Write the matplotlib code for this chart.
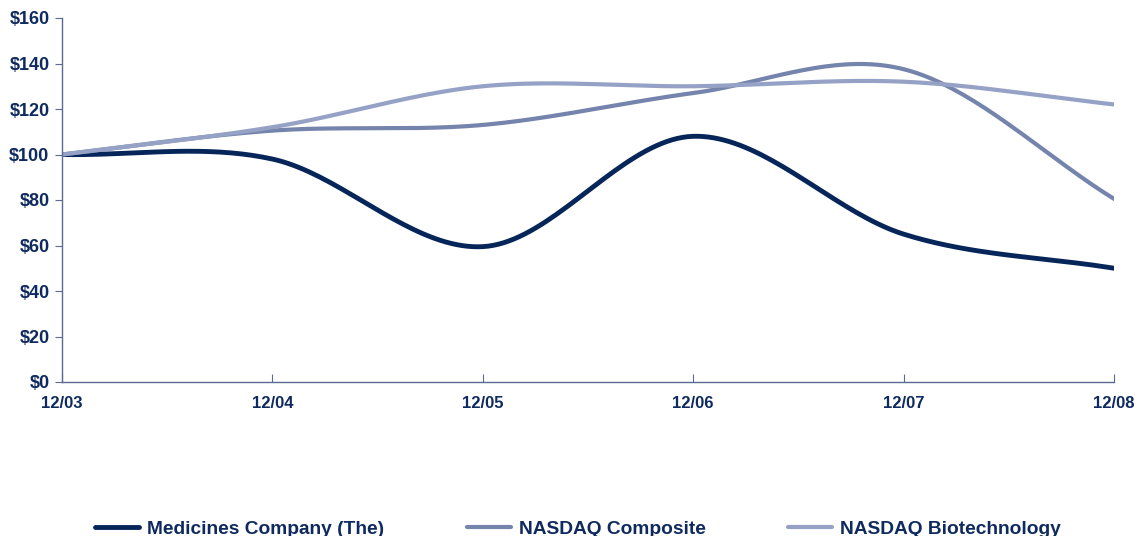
import numpy as np
import matplotlib
matplotlib.use('Agg')
import matplotlib.pyplot as plt

# Cumulative total return data
periods = ["12/03", "12/04", "12/05", "12/06", "12/07", "12/08"]
medicines = [100, 98, 59.5, 108, 65, 50]
nasdaq_composite = [100, 110.5, 113, 127, 137.5, 80.5]
nasdaq_biotech = [100, 112, 130, 130, 132, 122]

series_names = ["Medicines Company (The)", "NASDAQ Composite", "NASDAQ Biotechnology"]
colors = ["#06265a", "#7584ad", "#95a2c5"]
widths = [3.5, 3, 3]
text_color = "#0f2a5e"

plt.rcParams['font.family'] = ['Liberation Sans', 'DejaVu Sans']


def smooth(y, n=40):
    """Catmull-Rom spline through the points (similar to Excel smoothed lines)."""
    y = np.asarray(y, dtype=float)
    x = np.arange(len(y), dtype=float)
    p = np.concatenate([[2 * y[0] - y[1]], y, [2 * y[-1] - y[-2]]])
    xs, ys = [], []
    for i in range(len(y) - 1):
        p0, p1, p2, p3 = p[i], p[i + 1], p[i + 2], p[i + 3]
        t = np.linspace(0, 1, n, endpoint=(i == len(y) - 2))
        seg = 0.5 * ((2 * p1) + (-p0 + p2) * t
                     + (2 * p0 - 5 * p1 + 4 * p2 - p3) * t ** 2
                     + (-p0 + 3 * p1 - 3 * p2 + p3) * t ** 3)
        xs.append(x[i] + t)
        ys.append(seg)
    return np.concatenate(xs), np.concatenate(ys)


fig = plt.figure(figsize=(11.38, 5.36), dpi=100)
ax = fig.add_axes([62 / 1138, 154 / 536, (1114 - 62) / 1138, (382 - 18) / 536])

for vals, name, c, w in zip([medicines, nasdaq_composite, nasdaq_biotech], series_names, colors, widths):
    xs, ys = smooth(vals)
    ax.plot(xs, ys, color=c, lw=w, label=name, solid_capstyle='round')

ax.set_xlim(0, len(periods) - 1)
ax.set_ylim(0, 160)
ax.set_xticks(range(len(periods)))
ax.set_xticklabels(periods)
ax.set_yticks(range(0, 161, 20))
ax.set_yticklabels([f"${v}" for v in range(0, 161, 20)])

for s in ["top", "right"]:
    ax.spines[s].set_visible(False)
for s in ["left", "bottom"]:
    ax.spines[s].set_color("#5a6a90")
    ax.spines[s].set_linewidth(1)

ax.tick_params(axis='y', direction='out', length=5, color="#5a6a90",
               labelsize=13, labelcolor=text_color, pad=4)
ax.tick_params(axis='x', direction='in', length=6, color="#5a6a90",
               labelsize=12, labelcolor=text_color, pad=10)
for lbl in ax.get_xticklabels() + ax.get_yticklabels():
    lbl.set_fontweight("bold")

leg = fig.legend(loc="lower left", bbox_to_anchor=(95 / 1138, -0.004), ncol=3, frameon=False,
                 prop={'size': 13.8, 'weight': 'bold'}, handlelength=2.3,
                 columnspacing=4.3, handletextpad=0.42, borderpad=0, borderaxespad=0)
for t in leg.get_texts():
    t.set_color(text_color)

fig.savefig("out.png", dpi=100)
plt.close(fig)
